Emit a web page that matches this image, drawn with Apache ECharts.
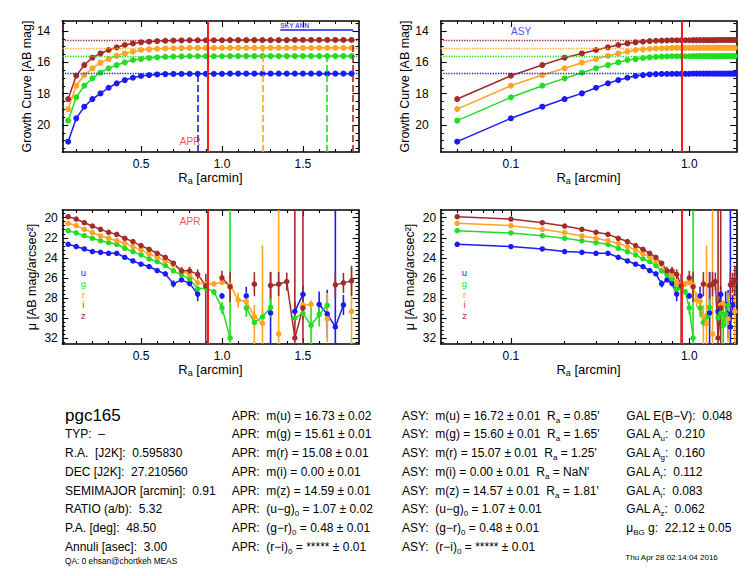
<!DOCTYPE html>
<html>
<head>
<meta charset="utf-8">
<script src="https://cdn.jsdelivr.net/npm/echarts@6/dist/echarts.min.js"></script>
<style>
  html, body { margin: 0; padding: 0; background: #fff; }
  #wrap { position: relative; width: 756px; height: 576px; font-family: 'Liberation Sans', Arial, Helvetica, sans-serif; }
  #chart { position: absolute; left: 0; top: 0; width: 756px; height: 576px; }
  #info { position: absolute; left: 0; top: 0; }
  .t { position: absolute; white-space: pre; color: #000; }
  .t sub { font-size: 8px; vertical-align: -3px; line-height: 0; }
  .letters { position: absolute; width: 20px; text-align: center; font-size: 9.5px; line-height: 10.7px; }
</style>
</head>
<body>
<div id="wrap"><div id="chart"></div><div id="info"></div></div>
<script>
// radii of the annuli [arcmin]
var radius = [0.05, 0.10, 0.15, 0.20, 0.25, 0.30, 0.35, 0.40, 0.45, 0.50, 0.55, 0.60,
              0.65, 0.70, 0.75, 0.80, 0.85, 0.90, 0.95, 1.00, 1.05, 1.10, 1.15, 1.20,
              1.25, 1.30, 1.35, 1.40, 1.45, 1.50, 1.55, 1.60, 1.65, 1.70, 1.75, 1.80];

// growth curves [AB mag]
var growthU = [21.06, 19.57, 18.83, 18.34, 17.98, 17.62, 17.34, 17.13, 16.98, 16.87, 16.81, 16.77,
               16.75, 16.74, 16.74, 16.73, 16.73, 16.73, 16.73, 16.73, 16.72, 16.72, 16.72, 16.72,
               16.72, 16.72, 16.72, 16.72, 16.72, 16.72, 16.72, 16.72, 16.72, 16.72, 16.72, 16.72];
var growthG = [19.72, 18.23, 17.49, 17.02, 16.66, 16.38, 16.17, 16.00, 15.85, 15.79, 15.72, 15.68,
               15.65, 15.63, 15.62, 15.61, 15.61, 15.61, 15.61, 15.61, 15.60, 15.60, 15.60, 15.60,
               15.60, 15.60, 15.60, 15.60, 15.60, 15.60, 15.60, 15.60, 15.60, 15.60, 15.60, 15.60];
var growthR = [18.98, 17.49, 16.81, 16.38, 16.02, 15.79, 15.58, 15.43, 15.32, 15.21, 15.17, 15.13,
               15.11, 15.10, 15.09, 15.08, 15.08, 15.08, 15.08, 15.08, 15.07, 15.07, 15.07, 15.07,
               15.07, 15.07, 15.07, 15.07, 15.07, 15.07, 15.07, 15.07, 15.07, 15.07, 15.07, 15.07];
var growthZ = [18.34, 16.85, 16.17, 15.70, 15.43, 15.21, 15.04, 14.89, 14.79, 14.72, 14.68, 14.64,
               14.62, 14.61, 14.60, 14.59, 14.59, 14.59, 14.59, 14.59, 14.58, 14.58, 14.58, 14.58,
               14.58, 14.58, 14.58, 14.58, 14.57, 14.57, 14.57, 14.57, 14.57, 14.57, 14.57, 14.57];

// surface brightness profiles [AB mag/arcsec^2], '-' = no value
var profU = [22.65, 22.88, 23.12, 23.38, 23.45, 23.55, 23.55, 23.95, 24.31, 24.64, 24.87, 25.27,
             25.60, 26.60, 26.20, 26.55, 27.62, '-', '-', 27.80, '-', '-', 27.80, '-',
             '-', 29.50, '-', '-', 29.35, 27.65, '-', 28.65, 29.60, 30.90, 28.70, '-'];
var profG = [21.29, 21.52, 21.79, 22.05, 22.30, 22.48, 22.65, 23.05, 23.38, 23.71, 24.11, 24.37,
             24.77, 25.30, 25.70, 26.10, 27.10, 27.00, 27.40, 29.00, 32.00, '-', 29.00, 30.45,
             29.90, 28.95, '-', '-', 30.00, 29.55, 30.75, 29.65, 28.75, '-', '-', '-'];
var profR = [20.56, 20.79, 21.16, 21.49, 21.82, 22.05, 22.29, 22.55, 22.88, 23.21, 23.61, 23.95,
             24.31, 24.71, 25.30, 25.70, 26.50, 26.65, 26.60, 26.43, 26.70, 28.20, 28.36, 29.85,
             30.55, '-', 31.60, '-', '-', 28.70, 28.65, '-', 30.10, '-', '-', 29.35];
var profZ = [19.90, 20.13, 20.50, 20.83, 21.16, 21.46, 21.66, 22.05, 22.38, 22.78, 23.15, 23.55,
             23.95, 24.54, 25.30, 25.30, 25.65, 26.80, '-', 26.00, 26.90, '-', '-', 26.63,
             '-', 26.76, 26.63, 26.37, 32.00, 29.00, '-', '-', '-', 26.70, 26.50, 26.30];

// error bars: towards brighter (up) and towards fainter (down)
var errUpU = [0, 0, 0, 0, 0, 0, 0, 0, 0, 0, 0, 0.1, 0.15, 0.35, 0.2, 0.3, 0.6, 0, 0, 0.3, 0, 0, 0.9, 0,
              0, 4.1, 0, 0, 1.0, 0.85, 0, 1.3, 2.4, 12, 1.0, 0];
var errDnU = [0, 0, 0, 0, 0, 0, 0, 0, 0, 0, 0, 0.1, 0.15, 0.35, 0.2, 0.3, 0.7, 0, 0, 0.3, 0, 0, 0.2, 0,
              0, 4.0, 0, 0, 1.0, 0.85, 0, 1.3, 2.4, 12, 1.0, 0];
var errUpG = [0, 0, 0, 0, 0, 0, 0, 0, 0, 0, 0, 0, 0.1, 0.15, 0.15, 0.2, 0.3, 0.3, 0.3, 0.6, 14, 0, 0.9, 0.6,
              0.6, 1.0, 0, 0, 0.5, 0.6, 2.0, 1.2, 1.0, 0, 0, 0];
var errDnG = [0, 0, 0, 0, 0, 0, 0, 0, 0, 0, 0, 0, 0.1, 0.15, 0.15, 0.2, 0.3, 0.3, 0.3, 0.6, 14, 0, 0.9, 0.6,
              0.6, 1.0, 0, 0, 0.5, 0.6, 2.0, 1.2, 1.0, 0, 0, 0];
var errUpR = [0, 0, 0, 0, 0, 0, 0, 0, 0, 0, 0, 0, 0, 0.15, 0.2, 0.2, 0.25, 0.3, 0.3, 0.3, 0.35, 0.75, 0.9, 1.15,
              7.8, 0, 15, 0, 0, 0.4, 0.4, 0, 2.6, 0, 0, 4.4];
var errDnR = [0, 0, 0, 0, 0, 0, 0, 0, 0, 0, 0, 0, 0, 0.15, 0.2, 0.2, 0.25, 0.3, 0.3, 0.3, 0.35, 0.75, 0.9, 2.8,
              7.8, 0, 15, 0, 0, 0.4, 0.4, 0, 2.3, 0, 0, 3.4];
var errUpZ = [0, 0, 0, 0, 0, 0, 0, 0, 0, 0, 0, 0, 0.1, 0.2, 0.4, 0.4, 0.5, 1.2, 0, 0.7, 1.5, 0, 0, 1.2,
              0, 1.3, 1.2, 0.9, 14, 14, 0, 0, 0, 1.2, 1.0, 1.5];
var errDnZ = [0, 0, 0, 0, 0, 0, 0, 0, 0, 0, 0, 0, 0.1, 0.2, 0.4, 0.4, 0.5, 6.0, 0, 0.7, 1.5, 0, 0, 1.2,
              0, 1.3, 1.2, 0.9, 14, 14, 0, 0, 0, 1.2, 1.0, 1.5];

// photometry summary
var bands = ['u', 'g', 'r', 'i', 'z'];
var aprMag = [16.73, 15.61, 15.08, 0.00, 14.59];
var aprErr = [0.02, 0.01, 0.01, 0.01, 0.01];
var asyMag = [16.72, 15.60, 15.07, 0.00, 14.57];
var asyErr = [0.01, 0.01, 0.01, 0.01, 0.01];
var asyRadius = [0.85, 1.65, 1.25, NaN, 1.81];
var colorNames = ['u\u2212g', 'g\u2212r', 'r\u2212i'];
var aprColor = [1.07, 0.48, null];
var aprColorErr = [0.02, 0.01, 0.01];
var asyColor = [1.07, 0.48, null];
var asyColorErr = [0.01, 0.01, 0.01];
var galExtNames = ['u', 'g', 'r', 'i', 'z'];
var galExt = [0.210, 0.160, 0.112, 0.083, 0.062];
var ebv = 0.048;
var skyMu = [22.12, 0.05];
var aprRadius = 0.91;          // semimajor axis
var skyAnnulus = [1.36, 1.81];
var galaxyName = 'pgc165';
var galaxyInfo = [['TYP:', '\u2013'], ['R.A.  [J2K]:', '0.595830'], ['DEC [J2K]:', '27.210560'],
                  ['SEMIMAJOR [arcmin]:', '0.91'], ['RATIO (a/b):', '5.32'], ['P.A. [deg]:', '48.50'],
                  ['Annuli [asec]:', '3.00']];

var FONT = "'Liberation Sans', Arial, Helvetica, sans-serif";
var colors = { u: '#1a1aff', g: '#22dd22', r: '#ffa424', i: '#ff1a1a', z: '#a52a2a' };
var red = '#ff1a1a';
var plotBands = ['u', 'g', 'r', 'z'];
var growth = { u: growthU, g: growthG, r: growthR, z: growthZ };
var profile = { u: profU, g: profG, r: profR, z: profZ };
var errUp = { u: errUpU, g: errUpG, r: errUpR, z: errUpZ };
var errDn = { u: errDnU, g: errDnG, r: errDnR, z: errDnZ };
function bandIdx(b) { return bands.indexOf(b); }

var linX = { type: 'value', range: [0.014, 1.843], major: [0.5, 1.0, 1.5],
             minor: [0.1, 0.2, 0.3, 0.4, 0.6, 0.7, 0.8, 0.9, 1.1, 1.2, 1.3, 1.4, 1.6, 1.7, 1.8] };
var logX = { type: 'log', range: [0.0404, 1.835], major: [0.1, 1.0],
             minor: [0.05, 0.06, 0.07, 0.08, 0.09, 0.2, 0.3, 0.4, 0.5, 0.6, 0.7, 0.8, 0.9] };
var growY = { type: 'value', range: [13.36, 21.72], major: [14, 16, 18, 20],
              minor: [13.5, 14.5, 15, 15.5, 16.5, 17, 17.5, 18.5, 19, 19.5, 20.5, 21, 21.5] };
var profY = { type: 'value', range: [19.23, 32.6], major: [20, 22, 24, 26, 28, 30, 32],
              minor: [19.6, 20.4, 20.8, 21.2, 21.6, 22.4, 22.8, 23.2, 23.6, 24.4, 24.8, 25.2, 25.6,
                      26.4, 26.8, 27.2, 27.6, 28.4, 28.8, 29.2, 29.6, 30.4, 30.8, 31.2, 31.6, 32.4] };

var grids = [
  { left: 62.3, top: 21, width: 296.2, height: 131 },
  { left: 440.7, top: 21, width: 295.6, height: 131 },
  { left: 62.3, top: 210, width: 296.2, height: 134 },
  { left: 440.7, top: 210, width: 295.6, height: 134 }
];

var xName = {
  text: '{n|R}{s|a}{n| [arcmin]}',
  style: { fontSize: 13, fontFamily: FONT, color: '#000',
    rich: { n: { fontSize: 13, fontFamily: FONT, color: '#000' },
            s: { fontSize: 9, fontFamily: FONT, color: '#000', padding: [7, 0, 0, 0] } } }
};

// four framed sides, each with a major and a minor tick axis
function frameAxes(dim, gi, cfg, name, nameGap, labelMargin, nameStyle) {
  var sides = dim === 'x' ? ['bottom', 'top'] : ['left', 'right'];
  var list = [];
  sides.forEach(function (pos, side) {
    [cfg.major, cfg.minor].forEach(function (ticks, m) {
      var ax = {
        type: cfg.type, gridIndex: gi, position: pos, min: cfg.range[0], max: cfg.range[1],
        inverse: dim === 'y',
        axisLine: { show: m === 0, onZero: false, lineStyle: { color: '#000', width: 1.6 } },
        axisTick: { show: true, inside: true, length: m === 0 ? 6 : 3, customValues: ticks,
                    lineStyle: { color: '#000', width: 1.1 } },
        axisLabel: { show: false },
        splitLine: { show: false },
        minorTick: { show: false },
        minorSplitLine: { show: false }
      };
      if (side === 0 && m === 0) {
        ax.axisLabel = {
          show: true, customValues: cfg.major, margin: labelMargin, color: '#000',
          fontSize: 12, fontFamily: FONT,
          formatter: function (v) { return dim === 'x' ? Number(v).toFixed(1) : String(Math.round(v)); }
        };
        ax.name = name;
        ax.nameLocation = 'middle';
        ax.nameGap = nameGap;
        ax.nameTextStyle = nameStyle;
      }
      list.push(ax);
    });
  });
  return list;
}

var yNameStyle = { fontSize: 12.5, fontFamily: FONT, color: '#000' };
var xAxes = [].concat(
  frameAxes('x', 0, linX, xName.text, 16, 6, xName.style),
  frameAxes('x', 1, logX, xName.text, 16, 6, xName.style),
  frameAxes('x', 2, linX, xName.text, 16, 6, xName.style),
  frameAxes('x', 3, logX, xName.text, 16, 6, xName.style)
);
var yAxes = [].concat(
  frameAxes('y', 0, growY, 'Growth Curve [AB mag]', 24, 12, yNameStyle),
  frameAxes('y', 1, growY, 'Growth Curve [AB mag]', 24, 12, yNameStyle),
  frameAxes('y', 2, profY, '\u03bc [AB mag/arcsec\u00b2]', 24, 4.5, yNameStyle),
  frameAxes('y', 3, profY, '\u03bc [AB mag/arcsec\u00b2]', 24, 4.5, yNameStyle)
);

function note(gi, x, y, text, color, size, pos, bold, dist) {
  return {
    type: 'scatter', xAxisIndex: 4 * gi, yAxisIndex: 4 * gi, data: [[x, y]],
    symbolSize: 0, silent: true, z: 10,
    label: { show: true, formatter: text, position: pos, distance: dist, color: color,
             fontSize: size, fontWeight: bold ? 'bold' : 'normal', fontFamily: FONT }
  };
}

var series = [];

// growth curve panels
[0, 1].forEach(function (gi) {
  plotBands.forEach(function (b) {
    var k = bandIdx(b);
    var marks = [{ yAxis: asyMag[k], lineStyle: { color: colors[b], type: 'dotted', width: 1.3 } }];
    if (gi === 0) {
      marks.push([
        { coord: [asyRadius[k], growY.range[1]], lineStyle: { color: colors[b], type: [7, 3], width: 1.6 } },
        { coord: [asyRadius[k], asyMag[k]] }
      ]);
    }
    if (b === 'z') {
      marks.push({ xAxis: aprRadius, lineStyle: { color: red, type: 'solid', width: 2 } });
    }
    series.push({
      type: 'line', xAxisIndex: 4 * gi, yAxisIndex: 4 * gi,
      data: radius.map(function (r, i) { return [r, growth[b][i]]; }),
      symbol: 'circle', symbolSize: 6, showSymbol: true,
      itemStyle: { color: colors[b] }, lineStyle: { color: colors[b], width: 1.5 },
      silent: true,
      markLine: { symbol: ['none', 'none'], silent: true, label: { show: false }, data: marks }
    });
  });
});

// sky annulus bar
series.push({
  type: 'line', xAxisIndex: 0, yAxisIndex: 0,
  data: [[skyAnnulus[0], 13.94], [skyAnnulus[1], 13.94]],
  symbol: 'none', lineStyle: { color: colors.u, width: 1.5 }, silent: true
});
series.push(note(0, skyAnnulus[0], 13.62, 'SKY ANN', colors.u, 6.5, 'right', true, 0));
series.push(note(0, aprRadius, 21.06, 'APR', red, 10, 'left', false, 7));
series.push(note(1, 0.114, 14.0, 'ASY', colors.u, 10, 'inside', false, 0));

// surface brightness panels
[2, 3].forEach(function (gi) {
  plotBands.forEach(function (b) {
    var bars = [];
    radius.forEach(function (r, i) {
      var m = profile[b][i];
      if (m === '-' || (errUp[b][i] === 0 && errDn[b][i] === 0)) return;
      bars.push([r, m, errUp[b][i], errDn[b][i]]);
    });
    series.push({
      type: 'custom', xAxisIndex: 4 * gi, yAxisIndex: 4 * gi, data: bars, silent: true,
      encode: { x: 0, y: 1 },
      renderItem: function (params, api) {
        var r = api.value(0), m = api.value(1);
        var a = api.coord([r, m - api.value(2)]);
        var c = api.coord([r, m + api.value(3)]);
        var cs = params.coordSys;
        var clamp = function (y) { return Math.max(cs.y, Math.min(cs.y + cs.height, y)); };
        return { type: 'line', shape: { x1: a[0], y1: clamp(a[1]), x2: a[0], y2: clamp(c[1]) },
                 style: { stroke: colors[b], lineWidth: 1.6 } };
      }
    });
    var s = {
      type: 'line', xAxisIndex: 4 * gi, yAxisIndex: 4 * gi,
      data: radius.map(function (r, i) { return [r, profile[b][i]]; }),
      connectNulls: false, symbol: 'circle', symbolSize: 5.5, showSymbol: true,
      itemStyle: { color: colors[b] }, lineStyle: { color: colors[b], width: 1.5 }, silent: true
    };
    if (b === 'z') {
      s.markLine = { symbol: ['none', 'none'], silent: true, label: { show: false },
        data: [{ xAxis: aprRadius, lineStyle: { color: red, type: 'solid', width: 2 } }] };
    }
    series.push(s);
  });
});
series.push(note(2, aprRadius, 20.4, 'APR', red, 10, 'left', false, 7));

var chart = echarts.init(document.getElementById('chart'), null, { renderer: 'svg' });
chart.setOption({
  animation: false,
  backgroundColor: '#fff',
  grid: grids.map(function (g) {
    return { left: g.left, top: g.top, width: g.width, height: g.height, containLabel: false, outerBoundsMode: 'none' };
  }),
  xAxis: xAxes,
  yAxis: yAxes,
  series: series
});

// text block below the plots
var info = document.getElementById('info');
function place(x, yc, html, size) {
  var d = document.createElement('div');
  var lh = Math.round(size * 1.3);
  d.className = 't';
  d.style.left = x + 'px';
  d.style.top = (yc - lh / 2) + 'px';
  d.style.fontSize = size + 'px';
  d.style.lineHeight = lh + 'px';
  d.innerHTML = html;
  info.appendChild(d);
}
function rowY(i) { return 415.7 + i * 18.71; }
function fmt(v) { return v === null ? '*****' : v.toFixed(2); }

// band letters inside the profile panels, one stacked block each
[83.3, 464.5].forEach(function (xc) {
  var d = document.createElement('div');
  d.className = 'letters';
  d.style.left = (xc - 10) + 'px';
  d.style.top = (273.5 - 5.35) + 'px';
  d.innerHTML = bands.map(function (b) {
    return '<span style="color:' + colors[b] + '">' + b + '</span>';
  }).join('<br>');
  info.appendChild(d);
});

place(65, rowY(0), galaxyName, 17);
galaxyInfo.forEach(function (p, i) { place(65, rowY(i + 1), p[0] + '  ' + p[1], 12); });
place(65, 561.7, 'QA: 0 ehsan@chortkeh MEAS', 8.3);

bands.forEach(function (b, k) {
  place(231.7, rowY(k), 'APR:  m(' + b + ') = ' + fmt(aprMag[k]) + ' \u00b1 ' + fmt(aprErr[k]), 12);
  var ra = isNaN(asyRadius[k]) ? 'NaN' : asyRadius[k].toFixed(2);
  place(402, rowY(k), 'ASY:  m(' + b + ') = ' + fmt(asyMag[k]) + ' \u00b1 ' + fmt(asyErr[k]) +
        '  R<sub>a</sub> = ' + ra + "'", 12);
});
colorNames.forEach(function (c, j) {
  place(231.7, rowY(5 + j), 'APR:  (' + c + ')<sub>0</sub> = ' + fmt(aprColor[j]) + ' \u00b1 ' + fmt(aprColorErr[j]), 12);
  place(402, rowY(5 + j), 'ASY:  (' + c + ')<sub>0</sub> = ' + fmt(asyColor[j]) + ' \u00b1 ' + fmt(asyColorErr[j]), 12);
});

place(626.3, rowY(0), 'GAL E(B\u2212V):  ' + ebv.toFixed(3), 12);
galExtNames.forEach(function (b, k) {
  place(626.3, rowY(k + 1), 'GAL A<sub>' + b + '</sub>:  ' + galExt[k].toFixed(3), 12);
});
place(626.3, rowY(6), '\u03bc<sub>BG</sub> g:  ' + skyMu[0].toFixed(2) + ' \u00b1 ' + skyMu[1].toFixed(2), 12);
place(625.3, 558.3, 'Thu Apr 28 02:14:04 2016', 8);
</script>
</body>
</html>
